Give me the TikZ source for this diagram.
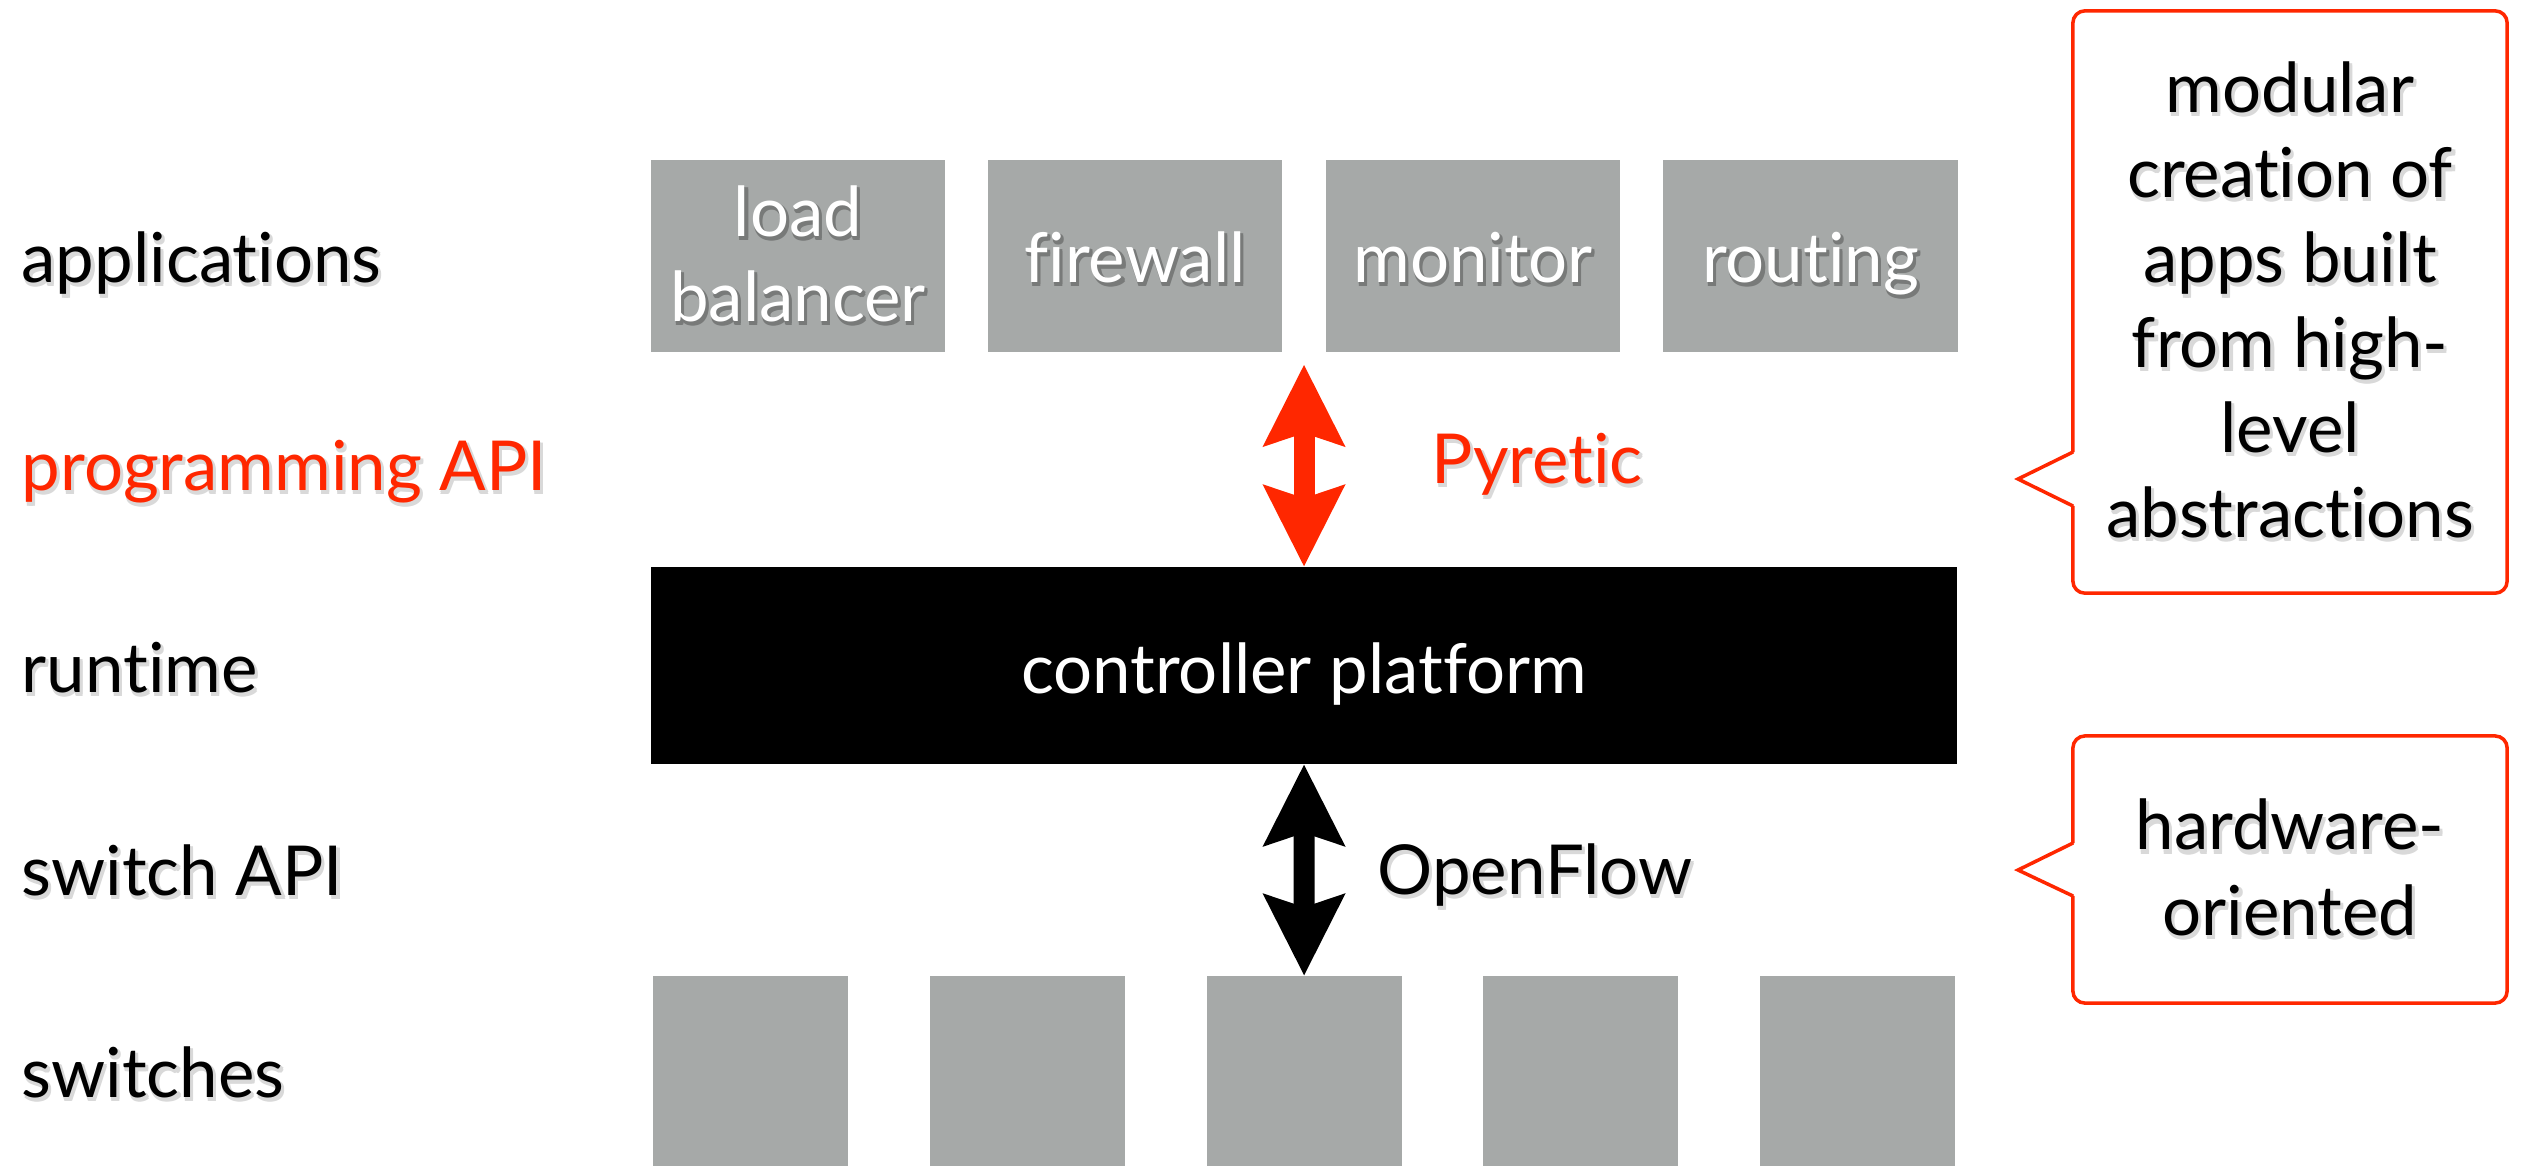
\documentclass[tikz,border=0pt]{standalone}
\usepackage{fontspec}
\setmainfont{Lato}[Ligatures=NoCommon]
\usetikzlibrary{arrows.meta}

\definecolor{slidegray}{HTML}{A6A9A8}
\definecolor{slidered}{HTML}{FF2700}
\colorlet{softshade}{black!15}
\colorlet{boxshade}{slidegray!72!black}

% text with a soft drop shadow below and to the right
\newcommand\shd[2]{\leavevmode
  \rlap{\kern0.3pt\raisebox{-0.6pt}{\color{#1}#2}}%
  \rlap{\kern0.9pt\raisebox{-0.6pt}{\color{#1}#2}}%
  \rlap{\kern0.3pt\raisebox{-1.2pt}{\color{#1}#2}}%
  \rlap{\kern0.9pt\raisebox{-1.2pt}{\color{#1}#2}}%
  #2}

\tikzset{
  slidefont/.style={font=\fontsize{19.6pt}{24.2pt}\selectfont},
  levellabel/.style={slidefont, inner sep=0pt, anchor=base west},
  appbox/.style={slidefont, fill=slidegray, text=white, inner sep=0pt,
    minimum width=2.94cm, minimum height=1.92cm, align=center},
  one line/.style={text height=0.52cm, text depth=0cm},
  switchbox/.style={fill=slidegray, inner sep=0pt,
    minimum width=1.95cm, minimum height=1.90cm},
  platform/.style={slidefont, fill=black, text=white, inner sep=0pt,
    minimum width=13.06cm, minimum height=1.97cm,
    text height=0.55cm, text depth=0cm},
  note/.style={slidefont, draw=slidered, line width=1pt,
    rounded corners=0.12cm, inner sep=0pt, align=center},
  pointer/.style={draw=slidered, line width=1pt, line join=miter},
  twoway/.style={line width=0.21cm,
    {Stealth[length=0.82cm, width=0.83cm, inset=0.14cm, line width=0pt]}-{Stealth[length=0.82cm, width=0.83cm, inset=0.14cm, line width=0pt]}},
  tag/.style={slidefont, inner sep=0pt, anchor=base west},
}

\begin{document}
\begin{tikzpicture}[x=0.01cm, y=-0.01cm]
\useasboundingbox (0,0) rectangle (2525,1166);
\fill[white] (0,0) rectangle (2525,1166);

% layer names down the left side
\node[levellabel] (lapps) at (21,282) {\shd{softshade}{applications}};
\node[levellabel, text=slidered] (lprog) at (21,490) {\shd{softshade}{programming API}};
\node[levellabel] (lrun) at (21,692) {\shd{softshade}{runtime}};
\node[levellabel] (lswapi) at (21,895) {\shd{softshade}{switch API}};
\node[levellabel] (lswitches) at (21,1097) {\shd{softshade}{switches}};

% applications
\node[appbox] (lb) at (798,256) {\shd{boxshade}{load}\\\shd{boxshade}{balancer}};
\node[appbox, one line] (fw) at (1135,256) {\shd{boxshade}{firewall}};
\node[appbox, one line] (mon) at (1473,256) {\shd{boxshade}{monitor}};
\node[appbox, one line] (rt) at (1810.5,256) {\shd{boxshade}{routing}};

% controller
\node[platform] (ctrl) at (1304,665.5) {controller platform};

% switches
\foreach \i in {1,...,5}
  \node[switchbox] (sw\i) at ({750.5+276.8*(\i-1)},1071) {};

% interfaces
\coordinate (apifoot) at (1304,365);
\draw[twoway, slidered] (apifoot) -- (ctrl.north);
\draw[twoway, black] (ctrl.south) -- (sw3.north);
\node[tag, text=slidered] (pyretic) at (1431,483) {\shd{softshade}{Pyretic}};
\node[tag] (openflow) at (1377,894) {\shd{softshade}{OpenFlow}};

% speech bubbles
\node[note, minimum width=4.34cm, minimum height=5.82cm] (note1) at (2290,302)
  {\shd{softshade}{modular}\\\shd{softshade}{creation of}\\\shd{softshade}{apps built}\\
   \shd{softshade}{from high-}\\\shd{softshade}{level}\\\shd{softshade}{abstractions}};
\node[note, minimum width=4.34cm, minimum height=2.67cm] (note2) at (2290,869.5)
  {\shd{softshade}{hardware-}\\\shd{softshade}{oriented}};

\fill[white] (2075,452) -- (2018,479) -- (2075,506) -- cycle;
\draw[pointer] (2073,452) -- (2018,479) -- (2073,506);
\fill[white] (2075,843) -- (2018,870) -- (2075,896) -- cycle;
\draw[pointer] (2073,843) -- (2018,870) -- (2073,896);
\end{tikzpicture}
\end{document}
